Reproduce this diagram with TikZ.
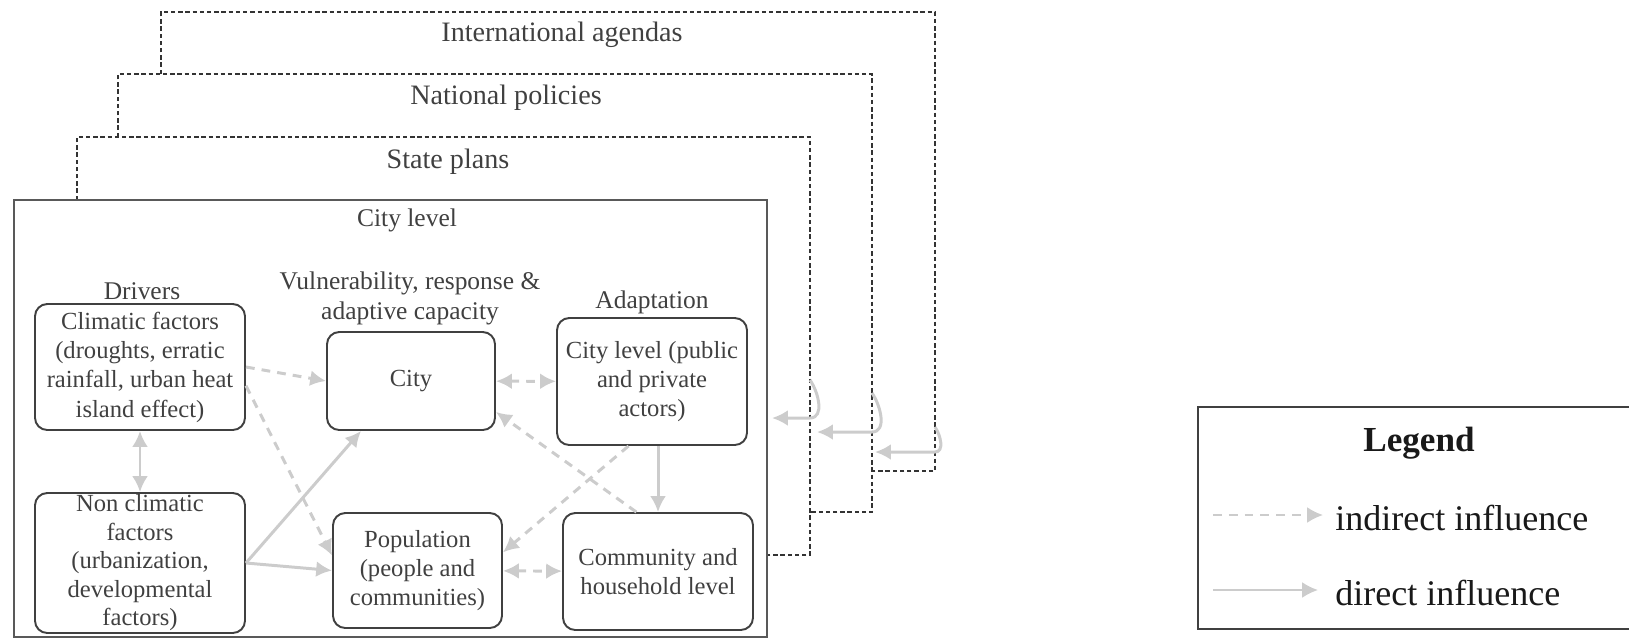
\documentclass[tikz,border=0pt]{standalone}
\usepackage{fontspec}
\setmainfont{Liberation Serif}
\usepackage{tikz}
\usetikzlibrary{arrows.meta}
\tikzstyle{level}=[draw=black!80, line width=0.9pt, dash pattern=on 2.5pt off 1.6pt]
\tikzstyle{cityframe}=[draw=black!65, line width=1.1pt]
\tikzstyle{factor}=[draw=black!75, line width=1.1pt, rounded corners=7pt, align=center, text=black!75, font=\fontsize{14}{16.7}\selectfont, inner sep=2pt]
\tikzstyle{heading}=[text=black!75, font=\fontsize{14.5}{17}\selectfont, align=center]
\tikzstyle{leveltitle}=[text=black!75, font=\fontsize{16}{18}\selectfont]
\tikzstyle{legendtext}=[text=black!90, font=\fontsize{20.5}{24}\selectfont, inner sep=0pt, anchor=west]
\tikzstyle{direct}=[draw=black!20, line width=1.7pt, ->]
\tikzstyle{indirect}=[direct, dash pattern=on 5pt off 4pt]

\begin{document}
\begin{tikzpicture}[x=0.2mm, y=-0.2mm, >={Latex[length=9pt,width=9pt]}]
        \useasboundingbox (0,0) rectangle (1629,638);
        % policy levels
        \draw[level] (161,74) -- (161,12) -- (935,12) -- (935,471) -- (872,471);
        \draw[level] (118,137) -- (118,74) -- (872,74) -- (872,512) -- (810,512);
        \draw[level] (77,200) -- (77,137) -- (810,137) -- (810,555) -- (767,555);
        \draw[cityframe] (14,200) rectangle (767,637);
        \node[leveltitle] (Intl) at (562, 35) {International agendas};
        \node[leveltitle] (Nat) at (506, 98) {National policies};
        \node[leveltitle] (State) at (448, 162) {State plans};
        \node[heading] (CityLevel) at (407, 220) {City level};
        % column headings
        \node[heading] (Drivers) at (142, 291) {Drivers};
        \node[heading] (Vuln) at (410, 298) {Vulnerability, response \&\\adaptive capacity};
        \node[heading] (Adaptation) at (652, 302) {Adaptation};
        % boxes
        \node[factor, minimum width=4.2cm, minimum height=2.52cm] (Clim) at (140, 367) {Climatic factors\\(droughts, erratic\\rainfall, urban heat\\island effect)};
        \node[factor, minimum width=4.2cm, minimum height=2.8cm, inner ysep=0pt, font=\fontsize{14}{16.2}\selectfont] (NonClim) at (140, 563) {Non climatic\\factors\\(urbanization,\\developmental\\factors)};
        \node[factor, minimum width=3.36cm, minimum height=1.96cm] (City) at (411, 381) {City};
        \node[factor, minimum width=3.38cm, minimum height=2.3cm] (Pop) at (417.5, 570.5) {Population\\(people and\\communities)};
        \node[factor, minimum width=3.8cm, minimum height=2.54cm] (Adapt) at (652, 381.5) {City level (public\\and private\\actors)};
        \node[factor, minimum width=3.8cm, minimum height=2.34cm] (Comm) at (658, 571.5) {Community and\\household level};
        % influences
        \draw[direct, <->] (Clim) -- (NonClim);
        \draw[indirect] (Clim.east) -- (City.west);
        \draw[indirect] (Clim.-10) -- (Pop.170);
        \draw[direct] (NonClim.east) -- (City.-135);
        \draw[direct] (NonClim.east) -- (Pop.west);
        \draw[indirect, <->] (City) -- (Adapt);
        \draw[indirect, <->] (Pop) -- (Comm);
        \draw[direct] (Adapt.south -| Comm.north) -- (Comm.north);
        \draw[indirect] (Comm.110) -- (City.-20);
        \draw[indirect] (Adapt.-110) -- (Pop.12);
        % from the outer levels
        \coordinate (StateHook) at (810,380);
        \coordinate (StateIn) at (810,418);
        \coordinate (CityEdge) at (772,418);
        \coordinate (NatHook) at (872,393);
        \coordinate (NatIn) at (872,432);
        \coordinate (StateEdge) at (817,432);
        \coordinate (IntlHook) at (935,427);
        \coordinate (IntlIn) at (935,452);
        \coordinate (NatEdge) at (875,452);
        \draw[direct] (StateHook) to[out=-55, in=0] (StateIn) -- (CityEdge);
        \draw[direct] (NatHook) to[out=-55, in=0] (NatIn) -- (StateEdge);
        \draw[direct] (IntlHook) to[out=-55, in=0] (IntlIn) -- (NatEdge);
        % legend
        \draw[draw=black!75, line width=1pt] (1629,407) -- (1198,407) -- (1198,629) -- (1629,629);
        \node[text=black!90, font=\bfseries\fontsize{20}{24}\selectfont] (Legend) at (1419, 443) {Legend};
        \coordinate (IndA) at (1213, 515);
        \coordinate (IndB) at (1323, 515);
        \coordinate (DirA) at (1213, 590);
        \coordinate (DirB) at (1318, 590);
        \draw[indirect, line width=1.2pt] (IndA) -- (IndB);
        \draw[direct, line width=1.2pt] (DirA) -- (DirB);
        \node[legendtext] (IndLabel) at (1335, 518) {indirect influence};
        \node[legendtext] (DirLabel) at (1335, 593) {direct influence};
    \end{tikzpicture}
\end{document}
